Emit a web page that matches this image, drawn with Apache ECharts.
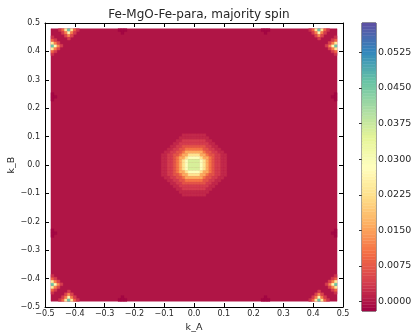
<!DOCTYPE html>
<html>
<head>
<meta charset="utf-8">
<title>Fe-MgO-Fe-para, majority spin</title>
<script src="https://cdn.jsdelivr.net/npm/echarts/dist/echarts.min.js"></script>
<style>
  html, body { margin: 0; padding: 0; background: #ffffff; }
  #chart { width: 415px; height: 334px; }
</style>
</head>
<body>
<div id="chart"></div>
<script>
// Spectral colour scale, low (red) to high (violet)
const spectral = ['#9e0142', '#d53e4f', '#f46d43', '#fdae61', '#fee08b', '#ffffbf',
                  '#e6f598', '#abdda4', '#66c2a5', '#3288bd', '#5e4fa2'];

// Transmission values are written in units of 1e-3
const UNIT = 1e-3;

// Sampled part of the zone: |k_A|, |k_B| <= 0.48, sample cells of 0.01
const ZONE = 0.48;
const CELL = 0.01;

// Colour range of the filled contours and the colour bar ticks
const levelMin = -0.0020;
const levelMax = 0.0587;
const colorbarTicks = [0.0000, 0.0075, 0.0150, 0.0225, 0.0300, 0.0375, 0.0450, 0.0525];

// Transmission over most of the zone
const backgroundValue = 0;

// Peak around the zone centre: cell centres along k_A (left to right) and k_B (top to bottom)
const centreKA = [-0.105, -0.095, -0.085, -0.075, -0.065, -0.055, -0.045, -0.035, -0.025, -0.015, -0.005,
                   0.005,  0.015,  0.025,  0.035,  0.045,  0.055,  0.065,  0.075,  0.085,  0.095,  0.105];
const centreKB = [ 0.105,  0.095,  0.085,  0.075,  0.065,  0.055,  0.045,  0.035,  0.025,  0.015,  0.005,
                  -0.005, -0.015, -0.025, -0.035, -0.045, -0.055, -0.065, -0.075, -0.085, -0.095, -0.105];
const centrePeak = [
  [0,0,0,0,0,0,0,2,2,2,2, 2,2,2,2,0,0,0,0,0,0,0],
  [0,0,0,0,0,0,2,2,2,2,2, 2,2,2,2,2,0,0,0,0,0,0],
  [0,0,0,0,0,2,2,4,4,4,4, 4,4,4,4,2,2,0,0,0,0,0],
  [0,0,0,0,2,2,4,4,4,4,4, 4,4,4,4,4,2,2,0,0,0,0],
  [0,0,0,2,2,4,4,7,7,7,7, 7,7,7,7,4,4,2,2,0,0,0],
  [0,0,2,2,4,4,7,7,11,11,11, 11,11,11,7,7,4,4,2,2,0,0],
  [0,2,2,4,4,7,7,11,16,16,16, 16,16,16,11,7,7,4,4,2,2,0],
  [2,2,4,4,7,7,11,16,16,23,23, 23,23,16,16,11,7,7,4,4,2,2],
  [2,2,4,4,7,11,16,16,23,29,29, 29,29,23,16,16,11,7,4,4,2,2],
  [2,2,4,4,7,11,16,23,29,36,36, 36,36,29,23,16,11,7,4,4,2,2],
  [2,2,4,4,7,11,16,23,29,36,36, 36,36,29,23,16,11,7,4,4,2,2],
  [2,2,4,4,7,11,16,23,29,36,36, 36,36,29,23,16,11,7,4,4,2,2],
  [2,2,4,4,7,11,16,23,29,36,36, 36,36,29,23,16,11,7,4,4,2,2],
  [2,2,4,4,7,11,16,16,23,29,29, 29,29,23,16,16,11,7,4,4,2,2],
  [2,2,4,4,7,7,11,16,16,23,23, 23,23,16,16,11,7,7,4,4,2,2],
  [0,2,2,4,4,7,7,11,16,16,16, 16,16,16,11,7,7,4,4,2,2,0],
  [0,0,2,2,4,4,7,7,11,11,11, 11,11,11,7,7,4,4,2,2,0,0],
  [0,0,0,2,2,4,4,7,7,7,7, 7,7,7,7,4,4,2,2,0,0,0],
  [0,0,0,0,2,2,4,4,4,4,4, 4,4,4,4,4,2,2,0,0,0,0],
  [0,0,0,0,0,2,2,4,4,4,4, 4,4,4,4,2,2,0,0,0,0,0],
  [0,0,0,0,0,0,2,2,2,2,2, 2,2,2,2,2,0,0,0,0,0,0],
  [0,0,0,0,0,0,0,2,2,2,2, 2,2,2,2,0,0,0,0,0,0,0]
];

// Hot spots on the zone boundary: rows run from the boundary inwards,
// each row centred on the spot position along that boundary
const edgePeakRows = [
  [3, 9, 24, 46, 24, 9, 3],
  [4, 12, 27, 12, 4],
  [5, 13, 5],
  [4]
];
const edgePeakSites = [
  ['top', -0.42], ['top', 0.42], ['bottom', -0.42], ['bottom', 0.42],
  ['left', 0.42], ['left', -0.42], ['right', 0.42], ['right', -0.42]
];

// Slightly negative spots on the boundary
const edgeDipRows = [
  [-1.4, -1.4, -1.4],
  [-1.4]
];
const edgeDipSites = [
  ['top', -0.24], ['top', 0.24], ['bottom', -0.24], ['bottom', 0.24],
  ['left', 0.24], ['left', -0.24], ['right', 0.24], ['right', -0.24]
];

// ---- cells: [k_A, k_B, value, width, height] ----
const cells = [[0, 0, backgroundValue, 2 * ZONE, 2 * ZONE]];

centrePeak.forEach((row, r) => {
  row.forEach((v, c) => {
    if (v !== 0) cells.push([centreKA[c], centreKB[r], v * UNIT, CELL, CELL]);
  });
});

function placeOnBoundary(rows, sites) {
  sites.forEach(([side, pos]) => {
    rows.forEach((row, r) => {
      const depth = ZONE - CELL * (r + 0.5);
      row.forEach((v, j) => {
        const along = pos + CELL * (j - (row.length - 1) / 2);
        let kA, kB;
        if (side === 'top') { kA = along; kB = depth; }
        else if (side === 'bottom') { kA = along; kB = -depth; }
        else if (side === 'left') { kA = -depth; kB = along; }
        else { kA = depth; kB = along; }
        cells.push([kA, kB, v * UNIT, CELL, CELL]);
      });
    });
  });
}
placeOnBoundary(edgeDipRows, edgeDipSites);
placeOnBoundary(edgePeakRows, edgePeakSites);

// ---- colour bar bands: [0, low, high, mid] ----
const BANDS = 90;
const bands = [];
for (let i = 0; i < BANDS; i++) {
  const lo = levelMin + (levelMax - levelMin) * i / BANDS;
  const hi = levelMin + (levelMax - levelMin) * (i + 1) / BANDS;
  bands.push([0, lo, hi, (lo + hi) / 2]);
}

const FONT = 'DejaVu Sans';
const TEXT = '#262626';

function kLabel(v) {
  if (Math.abs(v) < 1e-9) v = 0;
  return (v < 0 ? '\u2212' : '') + Math.abs(v).toFixed(1);
}

const frameAxis = {
  type: 'value', min: -0.5, max: 0.5, interval: 0.1,
  axisLine: { show: true, onZero: false, lineStyle: { color: '#000', width: 1 } },
  axisTick: { show: true, inside: true, length: 4, lineStyle: { color: '#000', width: 1 } },
  splitLine: { show: false }
};

const chart = echarts.init(document.getElementById('chart'), null, { renderer: 'canvas' });

chart.setOption({
  animation: false,
  backgroundColor: '#ffffff',
  title: {
    text: 'Fe-MgO-Fe-para, majority spin',
    left: 194, top: 4, textAlign: 'center',
    textStyle: { fontFamily: FONT, fontSize: 12, fontWeight: 'normal', color: TEXT }
  },
  grid: [
    { left: 45, right: 72, top: 23, bottom: 27, outerBoundsMode: 'none', containLabel: false },
    { left: 362, right: 39, top: 23, bottom: 23, outerBoundsMode: 'none', containLabel: false,
      show: true, borderColor: '#333', borderWidth: 1 }
  ],
  xAxis: [
    Object.assign({}, frameAxis, {
      gridIndex: 0, position: 'bottom',
      axisLabel: { formatter: kLabel, fontFamily: FONT, fontSize: 8, color: TEXT, margin: 3 },
      name: 'k_A', nameLocation: 'middle', nameGap: 16, nameMoveOverlap: false,
      nameTextStyle: { fontFamily: FONT, fontSize: 9.5, color: TEXT }
    }),
    Object.assign({}, frameAxis, { gridIndex: 0, position: 'top', axisLabel: { show: false } }),
    { gridIndex: 1, type: 'value', min: 0, max: 1, show: false }
  ],
  yAxis: [
    Object.assign({}, frameAxis, {
      gridIndex: 0, position: 'left',
      axisLabel: { formatter: kLabel, fontFamily: FONT, fontSize: 8, color: TEXT, margin: 5 },
      name: 'k_B', nameLocation: 'middle', nameGap: 28, nameRotate: 90, nameMoveOverlap: false,
      nameTextStyle: { fontFamily: FONT, fontSize: 9.5, color: TEXT }
    }),
    Object.assign({}, frameAxis, { gridIndex: 0, position: 'right', axisLabel: { show: false } }),
    {
      gridIndex: 1, type: 'value', position: 'right', min: levelMin, max: levelMax,
      axisLine: { show: false },
      splitLine: { show: false },
      axisTick: { show: true, inside: true, length: 3, customValues: colorbarTicks,
                  lineStyle: { color: '#333', width: 1 } },
      axisLabel: { show: true, customValues: colorbarTicks, formatter: v => v.toFixed(4),
                   fontFamily: FONT, fontSize: 9.5, color: TEXT, margin: 2 }
    }
  ],
  visualMap: [
    { type: 'continuous', show: false, seriesIndex: 0, dimension: 2,
      min: levelMin, max: levelMax, inRange: { color: spectral } },
    { type: 'continuous', show: false, seriesIndex: 1, dimension: 3,
      min: levelMin, max: levelMax, inRange: { color: spectral } }
  ],
  series: [
    {
      type: 'custom', xAxisIndex: 0, yAxisIndex: 0, clip: true, silent: true,
      data: cells,
      renderItem(params, api) {
        const kA = api.value(0), kB = api.value(1), w = api.value(3), h = api.value(4);
        const p0 = api.coord([kA - w / 2, kB + h / 2]);
        const p1 = api.coord([kA + w / 2, kB - h / 2]);
        const color = api.visual('color');
        return {
          type: 'rect',
          shape: { x: p0[0], y: p0[1], width: p1[0] - p0[0], height: p1[1] - p0[1] },
          style: { fill: color, stroke: color, lineWidth: 0.4 }
        };
      }
    },
    {
      type: 'custom', xAxisIndex: 2, yAxisIndex: 2, silent: true,
      data: bands,
      renderItem(params, api) {
        const p0 = api.coord([0, api.value(2)]);
        const p1 = api.coord([1, api.value(1)]);
        const color = api.visual('color');
        return {
          type: 'rect',
          shape: { x: p0[0], y: p0[1], width: p1[0] - p0[0], height: p1[1] - p0[1] },
          style: { fill: color, stroke: color, lineWidth: 0.4 }
        };
      }
    }
  ]
});
</script>
</body>
</html>
